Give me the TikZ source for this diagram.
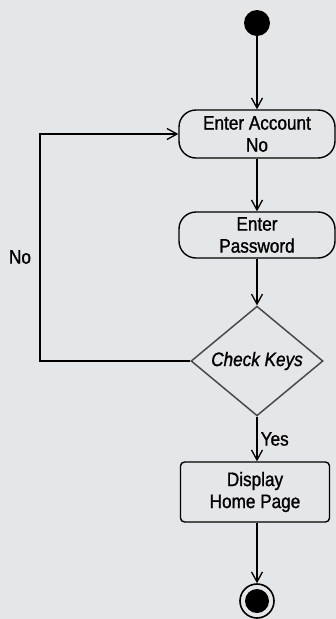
\documentclass[tikz,border=0pt]{standalone}
\usepackage{fontspec}
\setmainfont{Liberation Sans}
\newfontfamily\flowfont[FakeStretch=0.88,FakeBold=1.2]{Liberation Sans}
\usetikzlibrary{arrows.meta,shapes.geometric}
\definecolor{paper}{HTML}{E5E6E8}
\definecolor{rim}{HTML}{4A4A4A}
\begin{document}
\begin{tikzpicture}[x=1pt,y=-1pt,
  every node/.style={font=\flowfont\fontsize{19.5}{22}\selectfont, text=black},
  flow/.style={line width=1.4pt, draw=black, -{Straight Barb[length=10pt,width=11pt,line width=1.3pt]}},
  activity/.style={draw=black, line width=1.4pt, rounded corners=17pt, fill=paper,
    align=center, minimum width=156pt, inner sep=0pt},
  decision/.style={diamond, draw=rim, line width=1.5pt, fill=paper, inner sep=0pt,
    minimum width=132pt, minimum height=75pt},
  taskbox/.style={draw=black, line width=1.4pt, rounded corners=4pt, fill=paper,
    align=center, minimum width=149pt, minimum height=60pt, inner sep=0pt},
  startdot/.style={circle, fill=black, minimum size=26pt, inner sep=0pt},
  enddot/.style={circle, draw=black, line width=1.6pt, fill=paper, minimum size=34pt, inner sep=0pt,
    path picture={\fill[black] (path picture bounding box.center) circle (12pt);}}
]
  % canvas
  \fill[paper] (0,0) rectangle (336,619);
  \useasboundingbox (0,0) rectangle (336,619);

  % activity nodes
  \node[startdot] (start) at (257,23) {};
  \node[activity, minimum height=48pt] (account) at (257,134) {Enter Account\\No};
  \node[activity, minimum height=46pt] (password) at (257,235) {Enter\\Password};
  \node[decision] (check) at (257,361) {\itshape Check Keys};
  \node[taskbox] (home) at (255,492) {Display\\Home Page};
  \node[enddot] (finish) at (257,601) {};

  % retry loop column
  \coordinate (loopx) at (40,0);

  % transitions
  \draw[flow] (start) -- (account);
  \draw[flow] (account) -- (password);
  \draw[flow] (password) -- (check.north);
  \draw[flow] (check.south) -- node[right, inner sep=3pt] (yes) {Yes} (home.north -| check.south);
  \draw[flow] (home.south -| check.south) -- (finish);
  \draw[line width=1.4pt, -{Straight Barb[length=10pt,width=11pt,line width=1.3pt]}]
    (check.west) -- (check.west -| loopx) |- (account.west);
  \node (no) at (20,257) {No};
\end{tikzpicture}
\end{document}
